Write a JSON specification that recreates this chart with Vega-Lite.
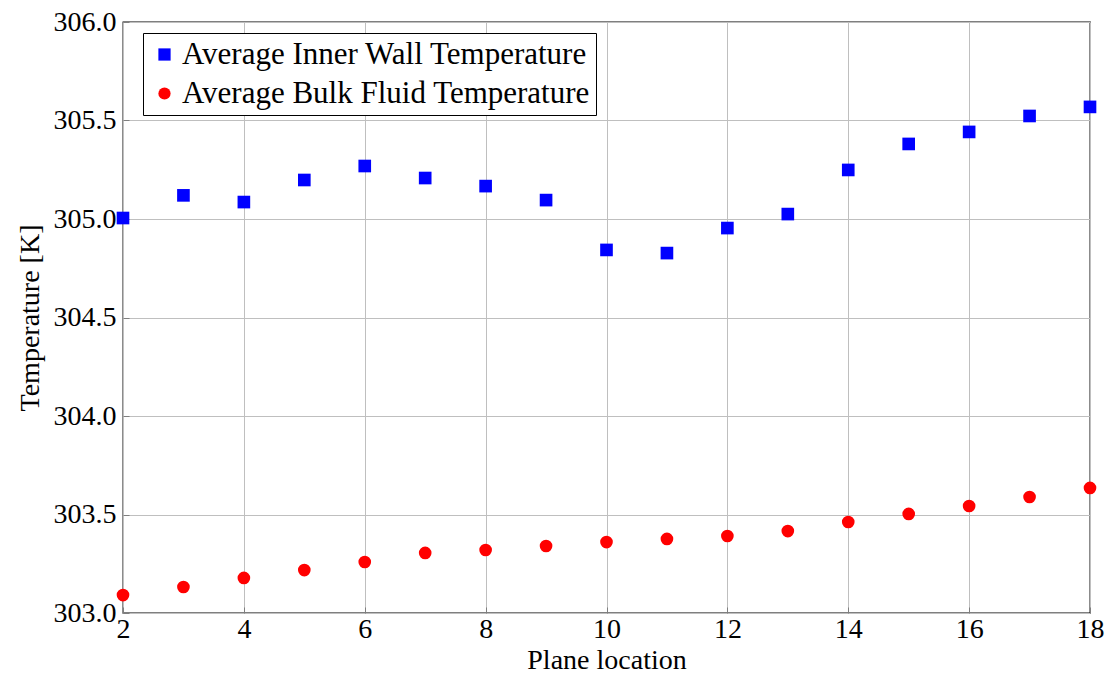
{
  "$schema": "https://vega.github.io/schema/vega-lite/v6.json",
  "width": 967,
  "height": 591,
  "autosize": {"type": "none"},
  "padding": {"left": 123, "top": 22, "right": 20, "bottom": 62},
  "background": "white",
  "config": {
    "font": "Liberation Serif",
    "view": {"stroke": "black", "strokeWidth": 1.3},
    "axis": {
      "domain": false,
      "grid": true,
      "gridColor": "#bfbfbf",
      "gridWidth": 1,
      "tickColor": "#7f7f7f",
      "tickSize": -6,
      "tickWidth": 1,
      "labelFlush": false,
      "labelFont": "Liberation Serif",
      "labelFontSize": 28,
      "labelColor": "black",
      "titleFont": "Liberation Serif",
      "titleFontSize": 28,
      "titleFontWeight": "normal",
      "titleColor": "black"
    }
  },
  "data": {
    "values": [
      {"plane": 2, "series": "Average Inner Wall Temperature", "temp": 305.005},
      {"plane": 3, "series": "Average Inner Wall Temperature", "temp": 305.12},
      {"plane": 4, "series": "Average Inner Wall Temperature", "temp": 305.086},
      {"plane": 5, "series": "Average Inner Wall Temperature", "temp": 305.198},
      {"plane": 6, "series": "Average Inner Wall Temperature", "temp": 305.269},
      {"plane": 7, "series": "Average Inner Wall Temperature", "temp": 305.208},
      {"plane": 8, "series": "Average Inner Wall Temperature", "temp": 305.167},
      {"plane": 9, "series": "Average Inner Wall Temperature", "temp": 305.096},
      {"plane": 10, "series": "Average Inner Wall Temperature", "temp": 304.843},
      {"plane": 11, "series": "Average Inner Wall Temperature", "temp": 304.827},
      {"plane": 12, "series": "Average Inner Wall Temperature", "temp": 304.954},
      {"plane": 13, "series": "Average Inner Wall Temperature", "temp": 305.025},
      {"plane": 14, "series": "Average Inner Wall Temperature", "temp": 305.249},
      {"plane": 15, "series": "Average Inner Wall Temperature", "temp": 305.381},
      {"plane": 16, "series": "Average Inner Wall Temperature", "temp": 305.442},
      {"plane": 17, "series": "Average Inner Wall Temperature", "temp": 305.523},
      {"plane": 18, "series": "Average Inner Wall Temperature", "temp": 305.569},
      {"plane": 2, "series": "Average Bulk Fluid Temperature", "temp": 303.091},
      {"plane": 3, "series": "Average Bulk Fluid Temperature", "temp": 303.132},
      {"plane": 4, "series": "Average Bulk Fluid Temperature", "temp": 303.178},
      {"plane": 5, "series": "Average Bulk Fluid Temperature", "temp": 303.218},
      {"plane": 6, "series": "Average Bulk Fluid Temperature", "temp": 303.259},
      {"plane": 7, "series": "Average Bulk Fluid Temperature", "temp": 303.305},
      {"plane": 8, "series": "Average Bulk Fluid Temperature", "temp": 303.32},
      {"plane": 9, "series": "Average Bulk Fluid Temperature", "temp": 303.34},
      {"plane": 10, "series": "Average Bulk Fluid Temperature", "temp": 303.36},
      {"plane": 11, "series": "Average Bulk Fluid Temperature", "temp": 303.376},
      {"plane": 12, "series": "Average Bulk Fluid Temperature", "temp": 303.391},
      {"plane": 13, "series": "Average Bulk Fluid Temperature", "temp": 303.416},
      {"plane": 14, "series": "Average Bulk Fluid Temperature", "temp": 303.462},
      {"plane": 15, "series": "Average Bulk Fluid Temperature", "temp": 303.503},
      {"plane": 16, "series": "Average Bulk Fluid Temperature", "temp": 303.543},
      {"plane": 17, "series": "Average Bulk Fluid Temperature", "temp": 303.589},
      {"plane": 18, "series": "Average Bulk Fluid Temperature", "temp": 303.635}
    ]
  },
  "mark": {"type": "point", "filled": true, "opacity": 1, "size": 160, "clip": false},
  "encoding": {
    "x": {
      "field": "plane",
      "type": "quantitative",
      "title": "Plane location",
      "scale": {"domain": [2, 18], "nice": false, "zero": false},
      "axis": {"values": [2, 4, 6, 8, 10, 12, 14, 16, 18], "format": "d", "labelPadding": 8, "titlePadding": 3}
    },
    "y": {
      "field": "temp",
      "type": "quantitative",
      "title": "Temperature [K]",
      "scale": {"domain": [303, 306], "nice": false, "zero": false},
      "axis": {"values": [303, 303.5, 304, 304.5, 305, 305.5, 306], "format": ".1f", "labelPadding": 13, "titlePadding": 9}
    },
    "color": {
      "field": "series",
      "type": "nominal",
      "scale": {"domain": ["Average Inner Wall Temperature", "Average Bulk Fluid Temperature"], "range": ["#0000ff", "#ff0000"]},
      "legend": {
        "title": null,
        "orient": "none",
        "legendX": 20,
        "legendY": 11,
        "strokeColor": "black",
        "fillColor": "white",
        "padding": 6,
        "labelFont": "Liberation Serif",
        "labelFontSize": 31,
        "labelColor": "black",
        "labelLimit": 700,
        "labelOffset": 2,
        "symbolSize": 150,
        "rowPadding": 7,
        "symbolOffset": 0
      }
    },
    "shape": {
      "field": "series",
      "type": "nominal",
      "scale": {"domain": ["Average Inner Wall Temperature", "Average Bulk Fluid Temperature"], "range": ["square", "circle"]}
    }
  }
}
